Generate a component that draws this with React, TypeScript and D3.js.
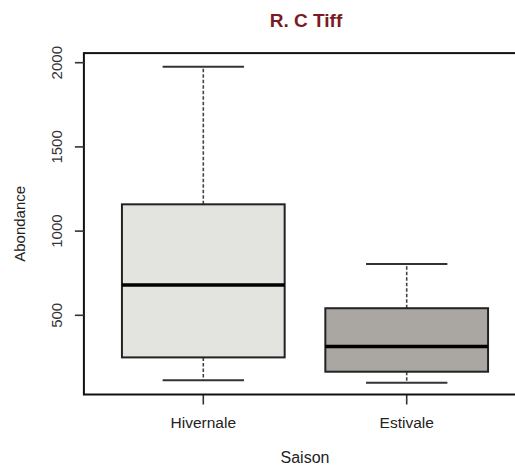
import React from "react";
import * as d3 from "d3";

const categories = ["Hivernale", "Estivale"];
const whiskerLow = [114, 100];
const q1 = [250, 165];
const median = [680, 314];
const q3 = [1159, 542];
const whiskerHigh = [1976, 805];
const boxFills = ["#e3e3df", "#aaa7a2"];
const yTicks = [500, 1000, 1500, 2000];

const W = 515;
const H = 466;

export default function App() {
  const y = d3.scaleLinear().domain([0, 2000]).range([399.5, 62.7]);
  const x = d3.scaleLinear().domain([1, 2]).range([203.3, 406.7]);
  const xlim = [0.413, 2.587];
  const ylim = [29.7, 2057];
  const boxW = 0.8;
  const capW = 0.4;
  const fx0 = x(xlim[0]);
  const fx1 = x(xlim[1]);
  const fy0 = y(ylim[1]);
  const fy1 = y(ylim[0]);
  const font = "Liberation Sans, Arial, Helvetica, sans-serif";

  return (
    <svg
      width={W}
      height={H}
      style={{ position: "absolute", left: 0, top: 0, background: "#fff" }}
      fontFamily={font}
    >
      <text x={306} y={27} textAnchor="middle" fontSize={19} fontWeight="bold" fill="#7b1a22">
        R. C Tiff
      </text>

      {categories.map((c, i) => {
        const cx = x(i + 1);
        const bx0 = x(i + 1 - boxW / 2);
        const bx1 = x(i + 1 + boxW / 2);
        const cx0 = x(i + 1 - capW / 2);
        const cx1 = x(i + 1 + capW / 2);
        return (
          <g key={c}>
            <line x1={cx} x2={cx} y1={y(q3[i])} y2={y(whiskerHigh[i])} stroke="#444" strokeWidth={1.6} strokeDasharray="3.5,2" />
            <line x1={cx} x2={cx} y1={y(q1[i])} y2={y(whiskerLow[i])} stroke="#444" strokeWidth={1.6} strokeDasharray="3.5,2" />
            <line x1={cx0} x2={cx1} y1={y(whiskerHigh[i])} y2={y(whiskerHigh[i])} stroke="#333" strokeWidth={2} />
            <line x1={cx0} x2={cx1} y1={y(whiskerLow[i])} y2={y(whiskerLow[i])} stroke="#333" strokeWidth={2} />
            <rect
              x={bx0}
              y={y(q3[i])}
              width={bx1 - bx0}
              height={y(q1[i]) - y(q3[i])}
              fill={boxFills[i]}
              stroke="#222"
              strokeWidth={2}
            />
            <line x1={bx0} x2={bx1} y1={y(median[i])} y2={y(median[i])} stroke="#000" strokeWidth={3.5} />
            <line x1={cx} x2={cx} y1={fy1} y2={fy1 + 10} stroke="#333" strokeWidth={1.6} />
            <text x={cx} y={428} textAnchor="middle" fontSize={15.5} fill="#222">
              {c}
            </text>
          </g>
        );
      })}

      <rect x={fx0} y={fy0} width={fx1 - fx0} height={fy1 - fy0} fill="none" stroke="#111" strokeWidth={2} />

      {yTicks.map((t) => (
        <g key={t}>
          <line x1={fx0 - 9} x2={fx0} y1={y(t)} y2={y(t)} stroke="#333" strokeWidth={1.6} />
          <text
            transform={`translate(62,${y(t)}) rotate(-90)`}
            textAnchor="middle"
            fontSize={15}
            fill="#333"
          >
            {t}
          </text>
        </g>
      ))}

      <text transform={`translate(25,${(fy0 + fy1) / 2}) rotate(-90)`} textAnchor="middle" fontSize={15} fill="#222">
        Abondance
      </text>
      <text x={305} y={463} textAnchor="middle" fontSize={16} fill="#222">
        Saison
      </text>
    </svg>
  );
}
